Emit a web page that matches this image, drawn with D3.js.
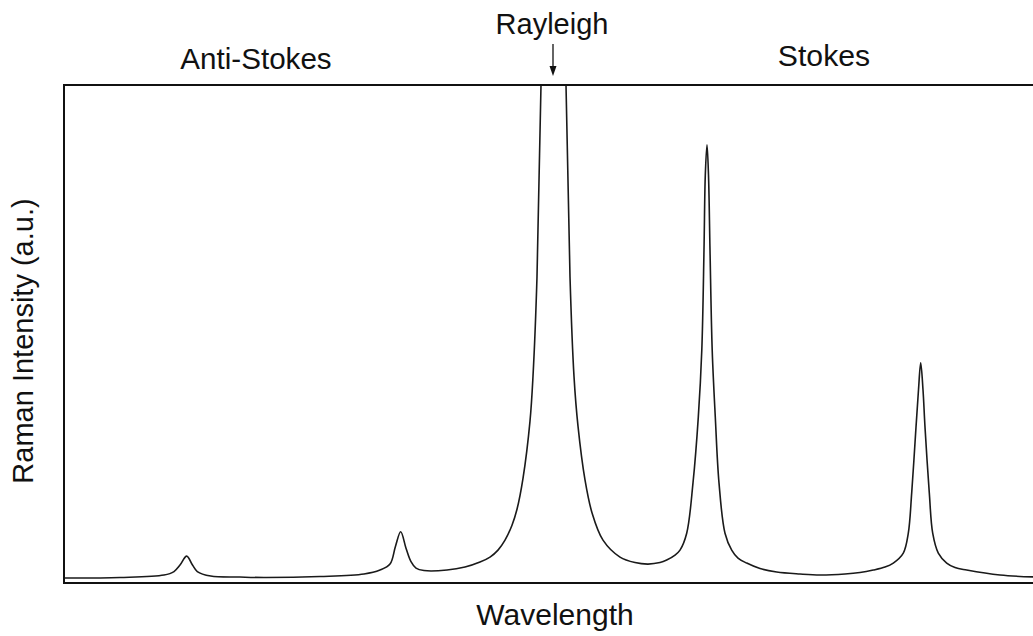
<!DOCTYPE html>
<html>
<head>
<meta charset="utf-8">
<script src="https://cdn.jsdelivr.net/npm/d3@7/dist/d3.min.js"></script>
<style>
  html, body { margin: 0; padding: 0; background: #fff; }
  svg { display: block; }
  text { font-family: "Liberation Sans", Arial, sans-serif; fill: #111; }
</style>
</head>
<body>
<svg id="chart" width="1033" height="636"></svg>
<script>
// Spectrum samples: wavelength (arbitrary units) and Raman intensity (a.u.)
const wavelength = [
  0, 56, 100, 110, 116, 122.7, 128.5, 133.3, 146.7, 176, 200, 256, 300, 316, 326,
  331.5, 336.7, 342, 347, 352, 360, 383, 401, 416, 426, 434, 441, 448, 453, 459,
  466, 469, 473, 477, 489.5, 502, 506, 510, 514, 521, 528, 539, 556, 571, 584,
  596, 602.7, 611, 616, 622.7, 629, 634.3, 637.8, 640, 641.3, 643, 644.5, 646,
  648.2, 651.3, 655, 661, 667.7, 674, 682.7, 696, 712.7, 736, 756, 781, 796,
  809.3, 821, 829.3, 839.3, 844.3, 847.7, 852, 854.5, 856.7, 859, 861, 865.3,
  868.7, 874.3, 882.7, 891, 902.7, 936, 972
];
const intensity = [
  1.0, 1.1, 1.6, 2.3, 3.6, 5.4, 3.6, 2.3, 1.4, 1.2, 1.1, 1.3, 1.8, 2.6, 3.8,
  7.4, 10.3, 7.0, 4.3, 3.0, 2.5, 2.6, 3.2, 4.2, 5.2, 6.6, 8.6, 11.6, 14.8, 21.0,
  32.5, 41.5, 61.5, 100, 230, 100, 61.5, 41.5, 31.5, 20.7, 14.1, 8.6, 5.2, 4.1, 3.8,
  4.1, 4.6, 5.6, 6.6, 10.0, 20.1, 33.3, 46.8, 66.9, 81.9, 88.0, 81.9, 66.9,
  46.8, 33.3, 20.1, 10.0, 6.6, 5.0, 4.0, 2.9, 2.2, 1.8, 1.6, 1.8, 2.1,
  2.6, 3.2, 4.0, 6.0, 10.0, 18.1, 31.3, 38.8, 44.2, 38.8, 31.3, 18.1,
  10.0, 6.0, 4.0, 3.1, 2.6, 1.6, 1.2
];

// Band labels above the frame
const bandLabels = ["Anti-Stokes", "Rayleigh", "Stokes"];
const bandCenters = [192, 488, 760];
const xTitle = "Wavelength";
const yTitle = "Raman Intensity (a.u.)";

const svg = d3.select("#chart");
const margin = { left: 64, top: 85, right: -3, bottom: 53 };
const W = 1033, H = 636;
const x0 = margin.left, x1 = W - margin.right;
const y0 = margin.top, y1 = H - margin.bottom;

const x = d3.scaleLinear().domain([0, 972]).range([x0, x1]);
const y = d3.scaleLinear().domain([0, 100]).range([y1, y0]);

const pts = wavelength.map((w, i) => [w, intensity[i]]);

svg.append("defs").append("clipPath").attr("id", "plotClip")
  .append("rect").attr("x", x0).attr("y", y0)
  .attr("width", x1 - x0).attr("height", y1 - y0);

const line = d3.line()
  .x(d => x(d[0]))
  .y(d => y(d[1]))
  .curve(d3.curveCatmullRom.alpha(0.5));

svg.append("path")
  .datum(pts)
  .attr("clip-path", "url(#plotClip)")
  .attr("d", line)
  .attr("fill", "none")
  .attr("stroke", "#1a1a1a")
  .attr("stroke-width", 1.6)
  .attr("stroke-linejoin", "round");

// Plot frame
svg.append("rect")
  .attr("x", x0).attr("y", y0)
  .attr("width", x1 - x0).attr("height", y1 - y0)
  .attr("fill", "none")
  .attr("stroke", "#111")
  .attr("stroke-width", 2);

// Band labels
const labelY = [69, 34, 66];
const labelSize = [29.6, 29, 30.2];
svg.selectAll("text.band")
  .data(bandLabels)
  .join("text")
  .attr("class", "band")
  .attr("x", (d, i) => x(bandCenters[i]))
  .attr("y", (d, i) => labelY[i])
  .attr("text-anchor", "middle")
  .attr("font-size", (d, i) => labelSize[i])
  .text(d => d);

// Arrow pointing at the Rayleigh line
const ax = x(bandCenters[1]) + 1;
svg.append("line")
  .attr("x1", ax).attr("x2", ax)
  .attr("y1", 44).attr("y2", 68)
  .attr("stroke", "#111").attr("stroke-width", 1.3);
svg.append("path")
  .attr("d", d3.line()([[ax - 3.5, 66], [ax + 3.5, 66], [ax, 76]]) + "Z")
  .attr("fill", "#111");

// Axis titles
svg.append("text")
  .attr("x", 555)
  .attr("y", 625)
  .attr("text-anchor", "middle")
  .attr("font-size", 30)
  .text(xTitle);

svg.append("text")
  .attr("transform", `translate(33,${(y0 + y1) / 2 + 7}) rotate(-90)`)
  .attr("text-anchor", "middle")
  .attr("font-size", 29)
  .text(yTitle);
</script>
</body>
</html>
